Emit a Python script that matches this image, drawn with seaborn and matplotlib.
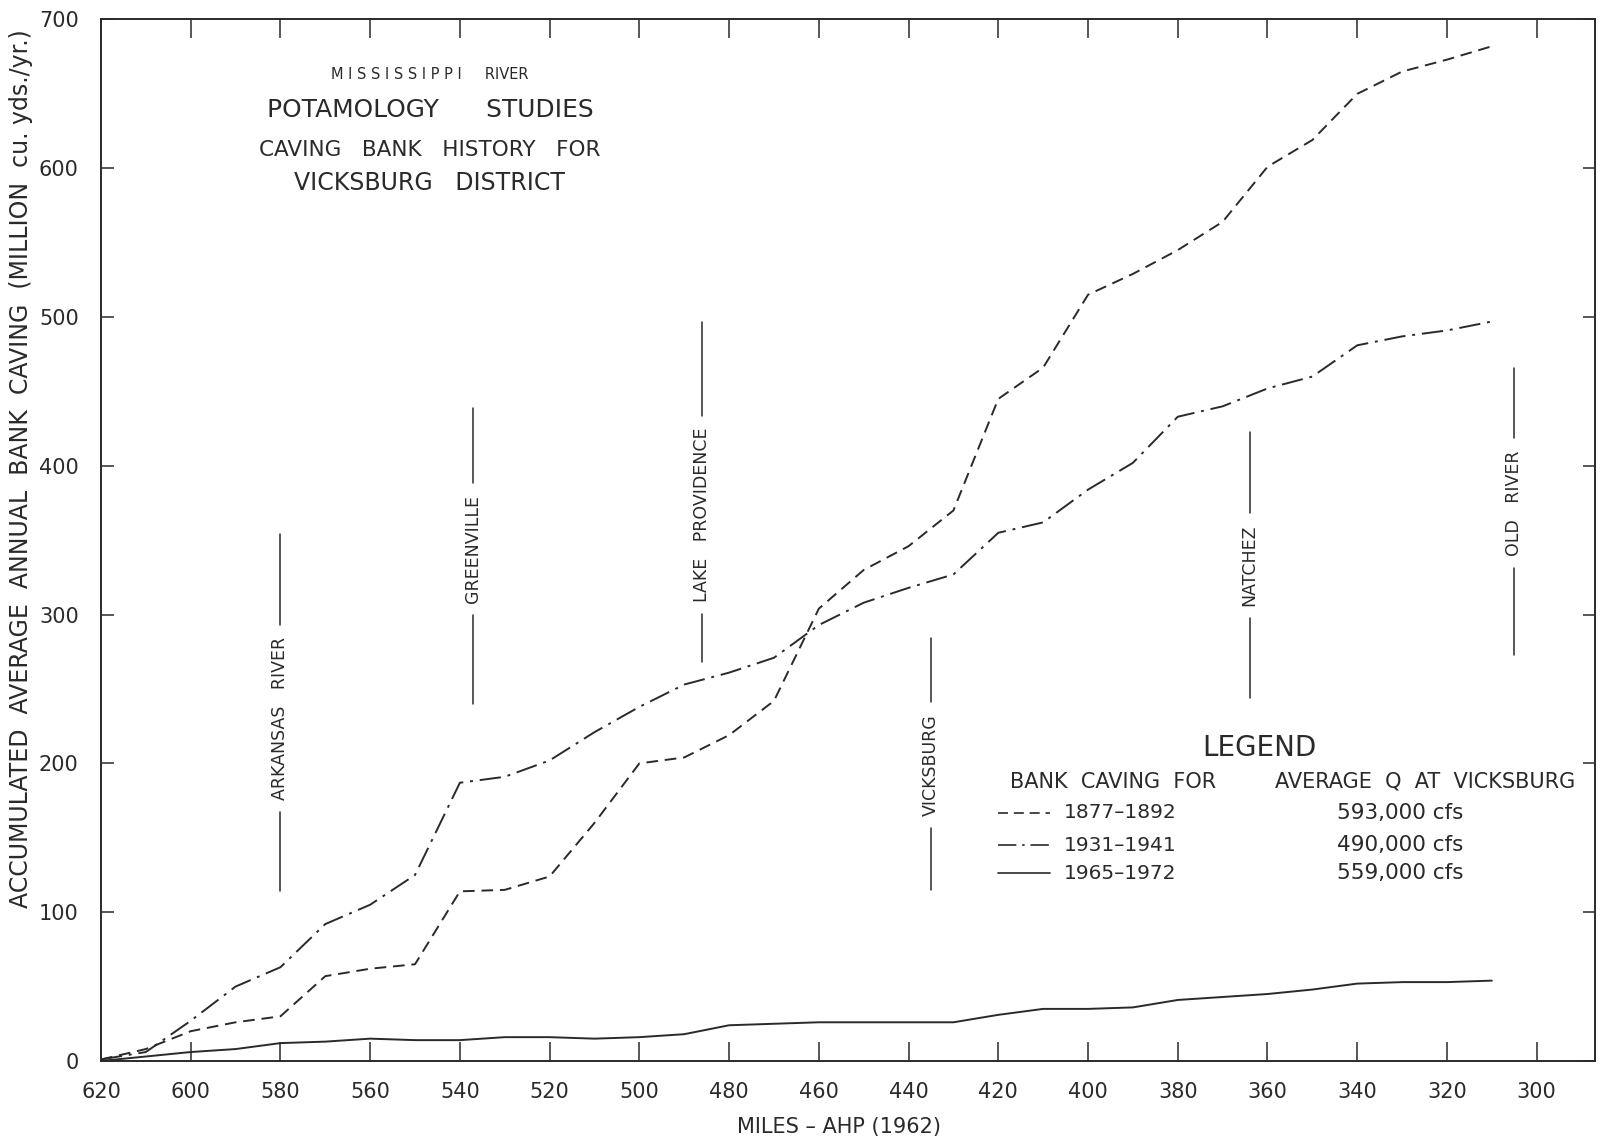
import numpy as np
import pandas as pd
import seaborn as sns
import matplotlib
matplotlib.use("Agg")
import matplotlib.pyplot as plt

# River miles above Head of Passes (1962)
miles = [620, 610, 600, 590, 580, 570, 560, 550, 540, 530, 520, 510, 500, 490, 480,
         470, 460, 450, 440, 430, 420, 410, 400, 390, 380, 370, 360, 350, 340, 330,
         320, 310]

# Accumulated average annual bank caving, million cu. yds./yr.
caving_1877_1892 = [1, 8, 20, 26, 30, 57, 62, 65, 114, 115, 124, 160, 200, 204, 219,
                    242, 304, 330, 346, 370, 445, 466, 515, 529, 545, 564, 601, 619,
                    650, 665, 673, 682]
caving_1931_1941 = [1, 6, 27, 50, 63, 92, 105, 125, 187, 191, 202, 221, 238, 253, 261,
                    271, 293, 308, 318, 327, 355, 362, 384, 402, 433, 440, 452, 460,
                    481, 487, 491, 497]
caving_1965_1972 = [0, 3, 6, 8, 12, 13, 15, 14, 14, 16, 16, 15, 16, 18, 24,
                    25, 26, 26, 26, 26, 31, 35, 35, 36, 41, 43, 45, 48,
                    52, 53, 53, 54]

periods = ["1877-1892", "1931-1941", "1965-1972"]
discharges = ["593,000 cfs", "490,000 cfs", "559,000 cfs"]

# Landmarks along the river (river mile)
landmark_names = ["ARKANSAS   RIVER", "GREENVILLE", "LAKE   PROVIDENCE",
                  "VICKSBURG", "NATCHEZ", "OLD   RIVER"]
landmark_miles = [580, 537, 486, 435, 364, 305]

x_ticks = list(range(620, 299, -20))
y_ticks = list(range(0, 701, 100))

# ---- layout / style ----
INK = "#2a2a2a"
# (leader bottom, leader top, label centre) in data units
LANDMARK_SPANS = [(114, 354, 230), (240, 439, 344), (268, 497, 367),
                  (115, 284, 199), (244, 423, 333), (273, 466, 375)]
STYLES = [(0, (6, 3.5)), (0, (11, 3.5, 1.5, 3.5)), "-"]

sns.set_theme(style="ticks")
plt.rcParams["font.family"] = ["DejaVu Sans"]
plt.rcParams["text.color"] = INK

df = pd.DataFrame({
    "mile": miles * 3,
    "caving": caving_1877_1892 + caving_1931_1941 + caving_1965_1972,
    "period": np.repeat(periods, len(miles)),
})

fig = plt.figure(figsize=(16.10, 11.46), dpi=100)
ax = fig.add_axes([0.0627, 0.0742, 0.928, 0.9088])

for period, ls in zip(periods, STYLES):
    sub = df[df["period"] == period]
    sns.lineplot(data=sub, x="mile", y="caving", ax=ax, color=INK,
                 linewidth=1.4, linestyle=ls, legend=False, sort=False)

ax.set_xlim(620, 287)
ax.set_ylim(0, 700)
ax.set_xticks(x_ticks)
ax.set_yticks(y_ticks)
ax.set_xlabel("")
ax.set_ylabel("")
for s in ax.spines.values():
    s.set_visible(True)
    s.set_color(INK)
    s.set_linewidth(1.4)
ax.tick_params(axis="x", direction="in", length=14, width=1.1, color=INK,
               top=True, bottom=True, labelsize=15, labelcolor=INK, pad=15)
ax.tick_params(axis="y", direction="in", length=9, width=1.1, color=INK,
               left=True, right=True, labelsize=15, labelcolor=INK, pad=16)

# Title block
title_x = 546.7
ax.text(title_x, 663, " ".join("MISSISSIPPI") + "     RIVER",
        ha="center", va="center", fontsize=10.5)
ax.text(title_x, 639, "POTAMOLOGY      STUDIES", ha="center", va="center", fontsize=17.9)
ax.text(title_x, 612, "CAVING   BANK   HISTORY   FOR", ha="center", va="center", fontsize=15.5)
ax.text(title_x, 590, "VICKSBURG   DISTRICT", ha="center", va="center", fontsize=17)

# Landmark labels with leader lines
fig.canvas.draw()
renderer = fig.canvas.get_renderer()
inv = ax.transData.inverted()
for name, m, (lo, hi, mid) in zip(landmark_names, landmark_miles, LANDMARK_SPANS):
    t = ax.text(m, mid, name, rotation=90, ha="center", va="center", fontsize=12.5)
    bb = t.get_window_extent(renderer)
    y0 = inv.transform((bb.x0, bb.y0 - 12))[1]
    y1 = inv.transform((bb.x0, bb.y1 + 12))[1]
    ax.plot([m, m], [lo, y0], color=INK, lw=1.1)
    ax.plot([m, m], [y1, hi], color=INK, lw=1.1)

# Legend block
ax.text(361.7, 210.5, "LEGEND", ha="center", va="center", fontsize=20)
ax.text(417.5, 187.5, "BANK  CAVING  FOR", ha="left", va="center", fontsize=15)
ax.text(358.3, 187.5, "AVERAGE  Q  AT  VICKSBURG", ha="left", va="center", fontsize=15)
for (period, q, ls, yv) in zip(periods, discharges, STYLES, [166.7, 145, 126]):
    ax.plot([420, 408.4], [yv, yv], color=INK, lw=1.2, linestyle=ls)
    ax.text(405.3, yv, period.replace("-", "–"), ha="left", va="center", fontsize=14.5)
    ax.text(344.5, yv, q, ha="left", va="center", fontsize=15.5)

fig.text(0.521, 0.0166, "MILES – AHP (1962)", ha="center", va="center", fontsize=15)
fig.text(0.0128, 0.591,
         "ACCUMULATED  AVERAGE  ANNUAL  BANK  CAVING  (MILLION  cu. yds./yr.)",
         rotation=90, ha="center", va="center", fontsize=17)

fig.savefig("out.png", dpi=100)
